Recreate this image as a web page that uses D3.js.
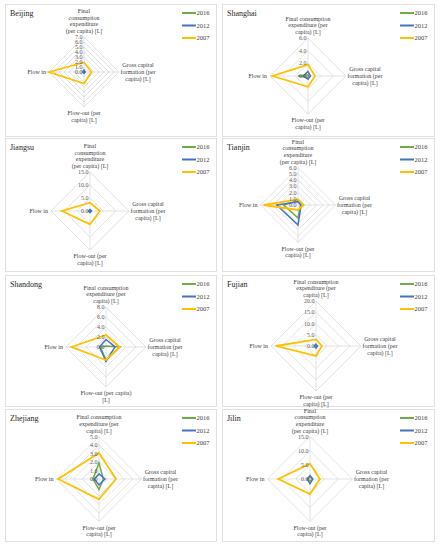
<!DOCTYPE html>
<html><head><meta charset="utf-8">
<script src="https://cdn.jsdelivr.net/npm/d3@7"></script>
<style>body{margin:0;background:#fff}svg{display:block}text{font-family:"Liberation Serif","DejaVu Serif",serif}</style>
</head><body>
<script>
// ---- data ----
const provinces = ["Beijing","Shanghai","Jiangsu","Tianjin","Shandong","Fujian","Zhejiang","Jilin"];
const axisNames = ["Final consumption expenditure (per capita) [L]","Gross capital formation (per capita) [L]","Flow-out (per capita) [L]","Flow in"];
const years = ["2016","2012","2007"];
const tickMax = [7,6,15,6,8,20,5,15];
const tickStep = [1,2,5,1,2,5,1,5];
// order of values: Final consumption, Gross capital formation, Flow-out, Flow in
const values2016 = [
  [0.25,0.2,0.25,0.25],
  [0.2,0.15,0.2,1.6],
  [0.4,0.4,0.4,0.4],
  [0.7,0.4,2.1,2.3],
  [0.2,2.8,2.7,1.1],
  [0.5,0.4,0.5,0.5],
  [1.9,0.5,1.25,0.7],
  [0.7,0.8,0.7,0.7]
];
const values2012 = [
  [0.4,0.27,0.27,0.27],
  [0.7,0.4,0.5,0.75],
  [0.6,0.6,0.6,0.6],
  [0.5,0.5,3.2,3.4],
  [1.5,1.8,2.9,1.3],
  [0.8,0.7,0.9,0.8],
  [0.6,0.7,0.7,0.55],
  [1.2,1.0,1.6,1.0]
];
const values2007 = [
  [1.9,1.5,2.3,7.0],
  [1.8,1.1,1.7,5.6],
  [3.2,3.8,5.1,10.8],
  [0.9,0.9,0.8,5.5],
  [2.4,2.7,2.6,6.9],
  [2.9,2.6,4.4,17.8],
  [3.05,2.0,2.4,4.8],
  [5.4,3.5,5.3,11.2]
];
const seriesValues = [values2016, values2012, values2007];

// ---- layout / style ----
const colors = ["#70AD47","#4472C4","#FFC000"];
const widths = [1.5,1.5,1.8];
const panels = [
  {x:5,y:4,w:211,h:132,cx:84,cy:72,r:35,topLines:4},
  {x:222,y:4,w:212,h:132,cx:308,cy:76,r:38,topLines:3},
  {x:5,y:138,w:211,h:133,cx:90,cy:211,r:39,topLines:4},
  {x:222,y:138,w:212,h:133,cx:298,cy:205,r:37.5,topLines:4},
  {x:5,y:275,w:211,h:131,cx:106,cy:347,r:40,topLines:3,bottomAlt:true},
  {x:222,y:275,w:212,h:131,cx:316,cy:346,r:45,topLines:3},
  {x:5,y:409,w:211,h:132,cx:99,cy:479,r:42.5,topLines:3},
  {x:222,y:409,w:212,h:132,cx:310,cy:479,r:42.5,topLines:4}
];
const topWrap = {
  3:["Final consumption","expenditure (per","capita) [L]"],
  4:["Final","consumption","expenditure","(per capita) [L]"]
};
const rightWrap = ["Gross capital","formation (per","capita) [L]"];
const bottomWrap = ["Flow-out (per","capita) [L]"];
const bottomWrapAlt = ["Flow-out (per capita)","[L]"];

const svg = d3.select("body").append("svg").attr("width",441).attr("height",550);
svg.append("rect").attr("width",441).attr("height",550).attr("fill","#fff");

const angles = [0, Math.PI/2, Math.PI, 3*Math.PI/2]; // top, right, bottom, left
const lh = 6.6, fs = 6;

provinces.forEach((name,i)=>{
  const p = panels[i];
  const g = svg.append("g");
  g.append("rect").attr("x",p.x+0.5).attr("y",p.y+0.5).attr("width",p.w).attr("height",p.h)
    .attr("fill","#fff").attr("stroke","#d9d9d9").attr("stroke-width",0.8);
  g.append("text").attr("x",p.x+5).attr("y",p.y+12).attr("font-size",8).attr("fill","#262626").text(name);

  const rs = d3.scaleLinear().domain([0,tickMax[i]]).range([0,p.r]);
  const ticks = d3.range(0, tickMax[i]+tickStep[i]/2, tickStep[i]);
  const pt = (a,v)=>[p.cx + Math.sin(a)*rs(v), p.cy - Math.cos(a)*rs(v)];
  const lineGen = d3.line().curve(d3.curveLinearClosed);

  ticks.slice(1).forEach(t=>{
    g.append("path").attr("d", lineGen(angles.map(a=>pt(a,t))))
      .attr("fill","none").attr("stroke","#d9d9d9").attr("stroke-width",0.75);
  });
  angles.forEach(a=>{
    const e = pt(a,tickMax[i]);
    g.append("line").attr("x1",p.cx).attr("y1",p.cy).attr("x2",e[0]).attr("y2",e[1])
      .attr("stroke","#d9d9d9").attr("stroke-width",0.75);
  });

  seriesValues.forEach((vals,s)=>{
    g.append("path").attr("d", lineGen(angles.map((a,k)=>pt(a,vals[i][k]))))
      .attr("fill","none").attr("stroke",colors[s]).attr("stroke-width",widths[s])
      .attr("stroke-linejoin","miter");
  });

  ticks.forEach(t=>{
    g.append("text").attr("x",p.cx-1.5).attr("y",p.cy - rs(t) + 2)
      .attr("text-anchor","end").attr("font-size",fs).attr("fill","#595959")
      .text(d3.format(".1f")(t));
  });

  const tl = topWrap[p.topLines];
  const topY = p.cy - p.r - 4;
  tl.forEach((s,k)=>{
    g.append("text").attr("x",p.cx).attr("y",topY - (tl.length-1-k)*lh)
      .attr("text-anchor","middle").attr("font-size",fs).attr("fill","#404040").text(s);
  });
  const rx = p.cx + p.r + 19;
  rightWrap.forEach((s,k)=>{
    g.append("text").attr("x",rx).attr("y",p.cy + 2 + (k-1)*lh)
      .attr("text-anchor","middle").attr("font-size",fs).attr("fill","#404040").text(s);
  });
  const bw = p.bottomAlt ? bottomWrapAlt : bottomWrap;
  bw.forEach((s,k)=>{
    g.append("text").attr("x",p.cx).attr("y",p.cy + p.r + 8 + k*lh)
      .attr("text-anchor","middle").attr("font-size",fs).attr("fill","#404040").text(s);
  });
  g.append("text").attr("x",p.cx - p.r - 3).attr("y",p.cy + 2)
    .attr("text-anchor","end").attr("font-size",fs).attr("fill","#404040").text(axisNames[3]);

  years.forEach((y,s)=>{
    const ly = p.y + 9 + s*12.5;
    const lx = p.x + p.w - 34;
    g.append("line").attr("x1",lx).attr("x2",lx+14).attr("y1",ly).attr("y2",ly)
      .attr("stroke",colors[s]).attr("stroke-width",2);
    g.append("text").attr("x",lx+14.5).attr("y",ly+2.2).attr("font-size",6.5).attr("fill","#404040").text(y);
  });
});
</script>
</body></html>
